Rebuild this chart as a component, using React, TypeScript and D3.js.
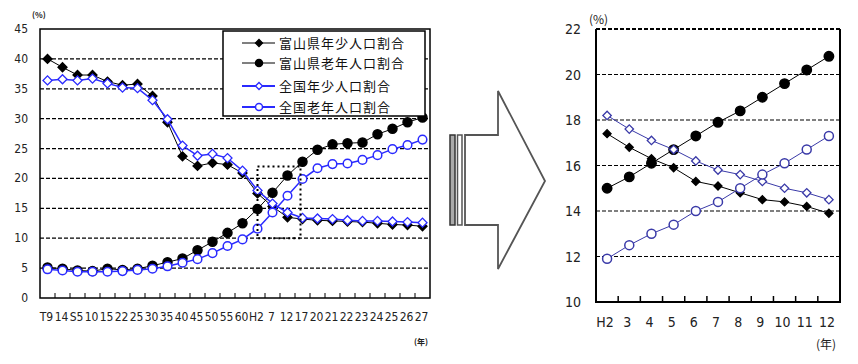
import * as d3 from 'd3';

// left chart: T9 .. H27
const leftCats = ['T9', '14', 'S5', '10', '15', '22', '25', '30', '35', '40', '45', '50', '55', '60', 'H2', '7', '12', '17', '20', '21', '22', '23', '24', '25', '26', '27'];
const toyamaYouth = [40.0, 38.6, 37.3, 37.3, 36.2, 35.6, 35.8, 33.8, 29.4, 23.7, 22.1, 22.6, 22.3, 20.9, 17.5, 15.3, 13.5, 13.2, 13.0, 12.9, 12.8, 12.7, 12.5, 12.3, 12.2, 12.0];
const toyamaElderly = [5.1, 4.9, 4.6, 4.5, 4.9, 4.7, 4.9, 5.4, 6.0, 6.6, 8.0, 9.4, 10.9, 12.5, 14.9, 17.6, 20.5, 22.8, 24.8, 25.7, 25.9, 26.0, 27.4, 28.3, 29.4, 30.2];
const nationalYouth = [36.4, 36.6, 36.4, 36.7, 35.9, 35.2, 35.1, 33.1, 29.9, 25.5, 23.8, 24.1, 23.4, 21.3, 18.0, 15.8, 14.3, 13.4, 13.3, 13.2, 13.0, 12.9, 12.9, 12.8, 12.7, 12.6];
const nationalElderly = [4.8, 4.6, 4.4, 4.4, 4.4, 4.5, 4.7, 4.9, 5.3, 5.9, 6.5, 7.5, 8.7, 9.8, 11.6, 14.3, 17.1, 19.9, 21.7, 22.4, 22.5, 23.1, 23.9, 24.9, 25.6, 26.5];
const leftTicks = [0, 5, 10, 15, 20, 25, 30, 35, 40, 45];

// right chart: H2 .. H12 (zoom)
const rightCats = ['H2', '3', '4', '5', '6', '7', '8', '9', '10', '11', '12'];
const rToyamaYouth = [17.4, 16.8, 16.3, 15.9, 15.3, 15.1, 14.8, 14.5, 14.4, 14.2, 13.9];
const rToyamaElderly = [15.0, 15.5, 16.1, 16.7, 17.3, 17.9, 18.4, 19.0, 19.6, 20.2, 20.8];
const rNationalYouth = [18.2, 17.6, 17.1, 16.7, 16.2, 15.8, 15.6, 15.3, 15.0, 14.8, 14.5];
const rNationalElderly = [11.9, 12.5, 13.0, 13.4, 14.0, 14.4, 15.0, 15.6, 16.1, 16.7, 17.3];
const rightTicks = [10, 12, 14, 16, 18, 20, 22];

const legendLabels = ['富山県年少人口割合', '富山県老年人口割合', '全国年少人口割合', '全国老年人口割合'];

const BLUE = '#2a2aff';
const NAVY = '#3a3aa8';
const numFont = '"Liberation Sans Narrow", "DejaVu Sans Condensed", Arial, sans-serif';
const jpFont = '"Noto Sans CJK JP", sans-serif';

type Kind = 'diamond' | 'circle';

function Marker({ x, y, kind, fill, stroke, s }: { x: number; y: number; kind: Kind; fill: string; stroke: string; s: number }) {
  if (kind === 'circle') return <circle cx={x} cy={y} r={s} fill={fill} stroke={stroke} strokeWidth={1.5} />;
  const p = d3.symbol(d3.symbolSquare, (s * Math.SQRT2) ** 2)();
  return <path d={p || ''} transform={`translate(${x},${y}) rotate(45)`} fill={fill} stroke={stroke} strokeWidth={1.3} />;
}

function Series({ vals, x, y, color, kind, fill, s, lw }: { vals: number[]; x: (i: number) => number; y: d3.ScaleLinear<number, number>; color: string; kind: Kind; fill: string; s: number; lw: number }) {
  const line = d3.line<number>().x((_, i) => x(i)).y((d) => y(d));
  return (
    <g>
      <path d={line(vals) || ''} fill="none" stroke={color} strokeWidth={lw} />
      {vals.map((v, i) => (
        <Marker key={i} x={x(i)} y={y(v)} kind={kind} fill={fill} stroke={color} s={s} />
      ))}
    </g>
  );
}

function LeftChart() {
  const L = 40, R = 430, T = 29, B = 298;
  const xb = d3.scaleBand<number>().domain(d3.range(leftCats.length)).range([L, R]);
  const xc = (i: number) => (xb(i) as number) + xb.bandwidth() / 2;
  const y = d3.scaleLinear().domain([0, 45]).range([B, T]);
  const rows = [43, 63, 86, 107];
  const legendItems: { color: string; kind: Kind; fill: string; lw: number }[] = [
    { color: '#000', kind: 'diamond', fill: '#000', lw: 1 },
    { color: '#000', kind: 'circle', fill: '#000', lw: 1 },
    { color: BLUE, kind: 'diamond', fill: '#fff', lw: 2 },
    { color: BLUE, kind: 'circle', fill: '#fff', lw: 2 },
  ];
  return (
    <g>
      {leftTicks.filter((t) => t > 0 && t < 45).map((t) => (
        <line key={t} x1={L} x2={R} y1={y(t)} y2={y(t)} stroke="#000" strokeWidth={1.3} strokeDasharray="4,2" />
      ))}
      {leftTicks.map((t) => (
        <text key={t} x={28} y={y(t) + 4} textAnchor="end" fontSize={12} fontFamily={numFont} fill="#222">{t}</text>
      ))}
      {d3.range(1, leftCats.length).map((i) => (
        <line key={i} x1={xb(i)} x2={xb(i)} y1={B} y2={B - 5} stroke="#000" strokeWidth={1} />
      ))}
      {leftCats.map((c, i) => (
        <text key={i} x={xc(i) - 1} y={321} textAnchor="middle" fontSize={12} fontFamily={numFont} fill="#222">{c}</text>
      ))}
      <rect x={L} y={T} width={R - L} height={B - T} fill="none" stroke="#000" strokeWidth={1.5} />
      <Series vals={toyamaYouth} x={xc} y={y} color="#000" kind="diamond" fill="#000" s={4.5} lw={1} />
      <Series vals={toyamaElderly} x={xc} y={y} color="#000" kind="circle" fill="#000" s={4.5} lw={1} />
      <Series vals={nationalYouth} x={xc} y={y} color={BLUE} kind="diamond" fill="#fff" s={4.5} lw={1.5} />
      <Series vals={nationalElderly} x={xc} y={y} color={BLUE} kind="circle" fill="#fff" s={4.3} lw={1.5} />
      <rect x={xc(14)} y={y(22)} width={xc(17) - 2 - xc(14)} height={y(10) - y(22)} fill="none" stroke="#000" strokeWidth={2} strokeDasharray="2,3" />
      <rect x={223} y={31} width={202} height={85} fill="#fff" stroke="#000" strokeWidth={1.5} />
      {legendItems.map((it, k) => (
        <g key={k}>
          <line x1={242} x2={275} y1={rows[k]} y2={rows[k]} stroke={it.color} strokeWidth={it.lw} />
          <Marker x={259} y={rows[k]} kind={it.kind} fill={it.fill} stroke={it.color} s={3.5} />
          <text x={279} y={rows[k] + 5} fontSize={13} letterSpacing={1} fontFamily={jpFont} fill="#111">{legendLabels[k]}</text>
        </g>
      ))}
      <text x={32} y={18} fontSize={8} fontWeight="bold" fontFamily={jpFont} fill="#222">(%)</text>
      <text x={414} y={345} fontSize={8} fontWeight="bold" fontFamily={jpFont} fill="#222">(年)</text>
    </g>
  );
}

function RightChart() {
  const L = 596, R = 840, T = 29, B = 302;
  const xb = d3.scaleBand<number>().domain(d3.range(rightCats.length)).range([L, R]);
  const xc = (i: number) => (xb(i) as number) + xb.bandwidth() / 2;
  const y = d3.scaleLinear().domain([10, 22]).range([B, T]);
  return (
    <g>
      {rightTicks.filter((t) => t > 10).map((t) => (
        <line key={t} x1={L} x2={R} y1={y(t)} y2={y(t)} stroke="#000" strokeWidth={t === 22 ? 2 : 1.2} strokeDasharray="4,2" />
      ))}
      {rightTicks.map((t) => (
        <text key={t} x={581} y={y(t) + 5} textAnchor="end" fontSize={14} fontFamily={numFont} fill="#222">{t}</text>
      ))}
      {d3.range(1, rightCats.length).map((i) => (
        <line key={i} x1={xb(i)} x2={xb(i)} y1={B} y2={B - 6} stroke="#000" strokeWidth={1.5} />
      ))}
      {rightCats.map((c, i) => (
        <text key={i} x={xc(i) - 2} y={327} textAnchor="middle" fontSize={14} fontFamily={numFont} fill="#222">{c}</text>
      ))}
      <path d={`M${L},${T}V${B}H${R}V${T}`} fill="none" stroke="#000" strokeWidth={2} />
      <Series vals={rToyamaYouth} x={xc} y={y} color="#000" kind="diamond" fill="#000" s={4} lw={1} />
      <Series vals={rToyamaElderly} x={xc} y={y} color="#000" kind="circle" fill="#000" s={4.7} lw={1} />
      <Series vals={rNationalYouth} x={xc} y={y} color={NAVY} kind="diamond" fill="#fff" s={4.2} lw={1} />
      <Series vals={rNationalElderly} x={xc} y={y} color={NAVY} kind="circle" fill="#fff" s={4.5} lw={1} />
      <text x={589} y={24} fontSize={12} fontFamily={jpFont} fill="#222">(%)</text>
      <text x={816} y={349} fontSize={12} fontFamily={jpFont} fill="#222">(年)</text>
    </g>
  );
}

function Arrow() {
  return (
    <g>
      <rect x={450} y={135} width={5} height={90} fill="#aaa" stroke="#333" strokeWidth={1.5} />
      <rect x={457.5} y={135} width={4.5} height={90} fill="#fff" stroke="#555" strokeWidth={1.5} />
      <path d="M465,135H498V91L545,181L498,269V225H465Z" fill="#fff" stroke="#555" strokeWidth={1.8} strokeLinejoin="miter" />
    </g>
  );
}

export default function App() {
  return (
    <svg width={858} height={364} style={{ position: 'absolute', left: 0, top: 0, background: '#fff' }}>
      <rect width={858} height={364} fill="#fff" />
      <LeftChart />
      <Arrow />
      <RightChart />
    </svg>
  );
}
